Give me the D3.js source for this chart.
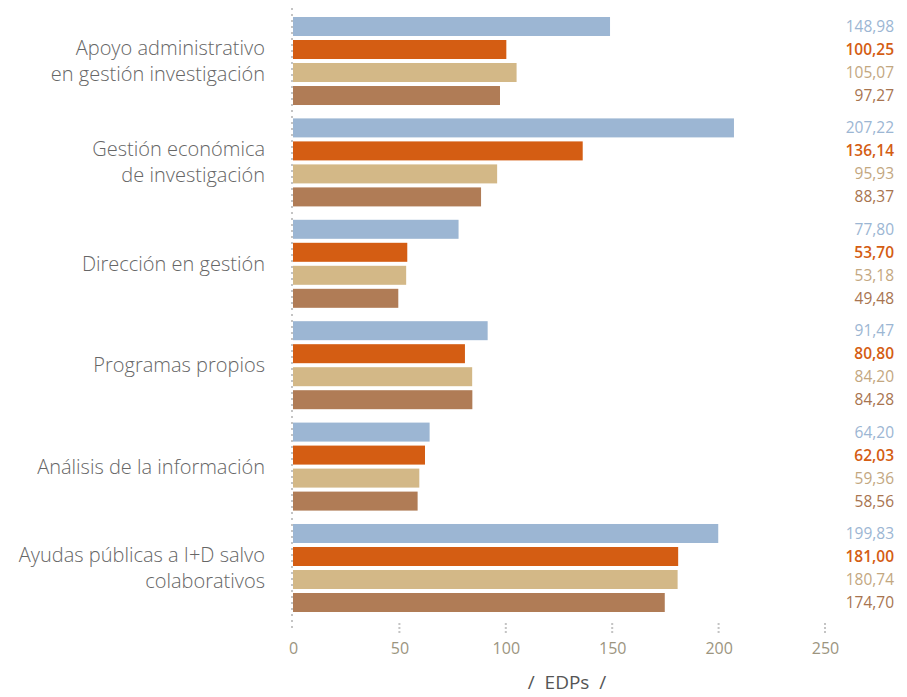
<!DOCTYPE html>
<html>
<head>
<meta charset="utf-8">
<script src="https://cdn.jsdelivr.net/npm/d3@7"></script>
<style>
  body { margin: 0; background: #fff; }
  svg { display: block; font-family: "Open Sans", "Noto Sans", sans-serif; }
</style>
</head>
<body>
<div id="chart"></div>
<script>
const categories = [
    ["Apoyo administrativo", "en gestión investigación"],
    ["Gestión económica", "de investigación"],
    ["Dirección en gestión"],
    ["Programas propios"],
    ["Análisis de la información"],
    ["Ayudas públicas a I+D salvo", "colaborativos"]
];
const seriesNames = ["s1", "s2", "s3", "s4"];
const seriesValues = [
    [148.98, 207.22, 77.80, 91.47, 64.20, 199.83],
    [100.25, 136.14, 53.70, 80.80, 62.03, 181.00],
    [105.07, 95.93, 53.18, 84.20, 59.36, 180.74],
    [97.27, 88.37, 49.48, 84.28, 58.56, 174.70]
];
const xTicks = [0, 50, 100, 150, 200, 250];
const axisTitle = "/  EDPs  /";

const barColors = ["#9cb6d3", "#d45d13", "#d3b887", "#b07c56"];
const labelColors = ["#9cb6d3", "#d45d13", "#c3a77f", "#a8744f"];
const labelWeights = [400, 600, 400, 400];

const width = 907, height = 697;
const svg = d3.select("#chart").append("svg")
    .attr("width", width)
    .attr("height", height);

const x = d3.scaleLinear().domain([0, 250]).range([293, 825]);
const catIdx = categories.map((c, i) => i);
const y = d3.scaleBand().domain(catIdx).range([17, 612]).paddingInner(0.132).paddingOuter(0);
const ySub = d3.scaleBand().domain(d3.range(seriesNames.length))
    .range([0, y.bandwidth()]).paddingInner(0.174).paddingOuter(0);

// dotted baseline
svg.append("line")
    .attr("x1", 292).attr("x2", 292)
    .attr("y1", 8).attr("y2", 632)
    .attr("stroke", "#c4c4c4")
    .attr("stroke-width", 2)
    .attr("stroke-dasharray", "2,4");

// bars
const groups = svg.selectAll("g.cat")
    .data(catIdx)
    .join("g")
    .attr("class", "cat")
    .attr("transform", d => `translate(0,${y(d)})`);

groups.selectAll("rect")
    .data(ci => seriesValues.map((s, si) => ({si, v: s[ci]})))
    .join("rect")
    .attr("x", x(0))
    .attr("y", d => ySub(d.si))
    .attr("width", d => x(d.v) - x(0))
    .attr("height", ySub.bandwidth())
    .attr("fill", d => barColors[d.si]);

// value labels
const fmt = v => v.toFixed(2).replace(".", ",");
groups.selectAll("text.val")
    .data(ci => seriesValues.map((s, si) => ({si, v: s[ci]})))
    .join("text")
    .attr("class", "val")
    .attr("x", 894)
    .attr("y", d => ySub(d.si) + ySub.bandwidth() / 2)
    .attr("dy", "0.35em")
    .attr("text-anchor", "end")
    .style("font-size", "15.5px")
    .style("font-weight", d => labelWeights[d.si])
    .attr("fill", d => labelColors[d.si])
    .text(d => fmt(d.v));

// category labels
groups.append("text")
    .attr("class", "cat-label")
    .attr("text-anchor", "end")
    .attr("fill", "#666")
    .style("font-size", "20px")
    .style("font-weight", 300)
    .each(function(ci) {
        const lines = categories[ci];
        const t = d3.select(this);
        const mid = y.bandwidth() / 2;
        lines.forEach((ln, i) => {
            t.append("tspan")
                .attr("x", 265)
                .attr("y", mid + (i - (lines.length - 1) / 2) * 26)
                .attr("dy", "0.35em")
                .text(ln);
        });
    });

// x axis
const xAxis = d3.axisBottom(x)
    .tickValues(xTicks)
    .tickSize(0)
    .tickPadding(0)
    .tickFormat(d3.format("d"));

const ax = svg.append("g")
    .attr("transform", "translate(0,648)")
    .call(xAxis);
ax.select(".domain").remove();
ax.selectAll("text")
    .attr("dy", "0.35em")
    .attr("y", 0)
    .style("font-size", "16px")
    .style("font-family", "'Open Sans', sans-serif")
    .attr("fill", "#9c957f");

// dotted tick marks
svg.selectAll("line.tick-mark")
    .data(xTicks.slice(1))
    .join("line")
    .attr("class", "tick-mark")
    .attr("x1", d => x(d)).attr("x2", d => x(d))
    .attr("y1", 623).attr("y2", 633)
    .attr("stroke", "#c4c4c4")
    .attr("stroke-width", 2)
    .attr("stroke-dasharray", "2,2");

svg.append("text")
    .attr("x", 567)
    .attr("y", 682)
    .attr("dy", "0.35em")
    .attr("text-anchor", "middle")
    .attr("fill", "#555")
    .style("font-size", "19px")
    .attr("xml:space", "preserve")
    .text(axisTitle);
</script>
</body>
</html>
